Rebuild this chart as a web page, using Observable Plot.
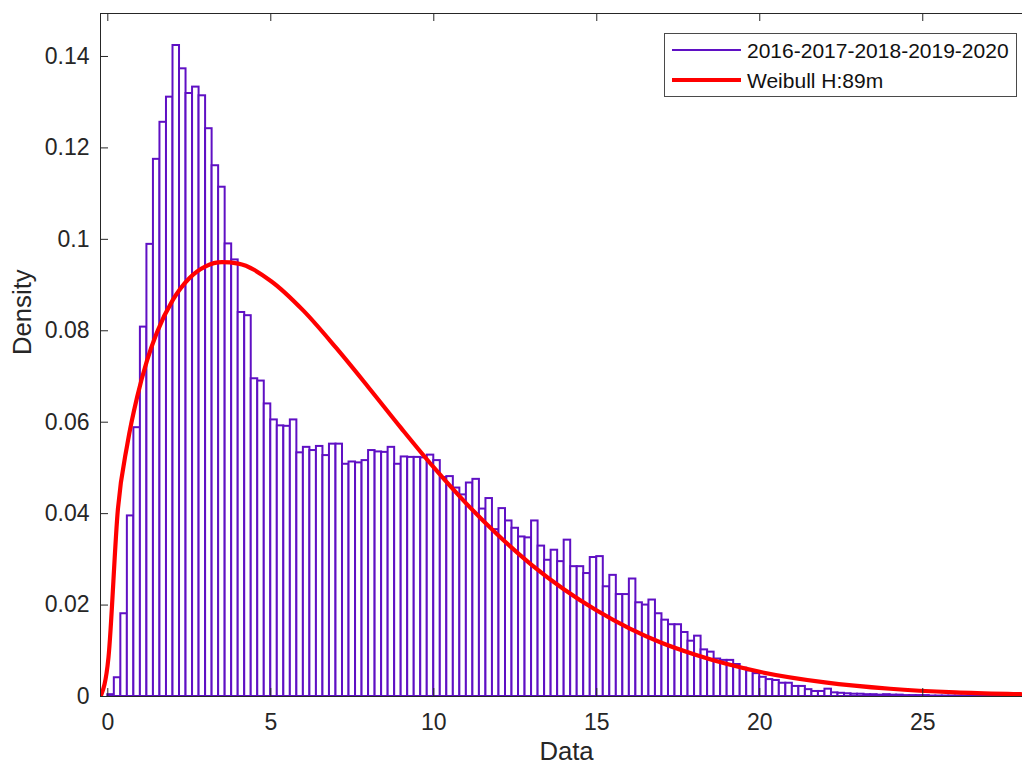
<!DOCTYPE html>
<html>
<head>
<meta charset="utf-8">
<script src="https://cdn.jsdelivr.net/npm/d3@7"></script>
<script src="https://cdn.jsdelivr.net/npm/@observablehq/plot@0.6"></script>
<style>
  html, body { margin: 0; padding: 0; background: #fff; }
  #wrap { position: relative; width: 1022px; height: 766px; font-family: "Liberation Sans", Arial, sans-serif; }
  .legend { position: absolute; left: 664px; top: 33px; width: 353px; height: 64px; box-sizing: border-box;
            border: 1px solid #4a4a4a; background: #fff; }
  .legend .row { position: absolute; left: 0; height: 0; }
  .legend .sw { position: absolute; left: 7px; width: 69px; }
  .legend .lab { position: absolute; left: 82px; font-size: 21px; color: #111; white-space: nowrap; line-height: 1; transform: translateY(-50%); }
</style>
</head>
<body>
<div id="wrap"></div>
<script>
// ---------- data ----------
const binWidth = 0.2;           // histogram bin width (bins start at 0)
const density = [
  0.0004, 0.0041, 0.0181, 0.0395, 0.0588, 0.0808, 0.0989, 0.1175, 0.1256, 0.1311,
  0.1424, 0.1373, 0.1319, 0.1333, 0.1314, 0.1242, 0.1161, 0.1114, 0.0990, 0.0955,
  0.0840, 0.0833, 0.0695, 0.0690, 0.0640, 0.0605, 0.0592, 0.0591, 0.0605, 0.0533,
  0.0545, 0.0538, 0.0547, 0.0527, 0.0552, 0.0552, 0.0508, 0.0513, 0.0511, 0.0516,
  0.0538, 0.0535, 0.0534, 0.0545, 0.0508, 0.0524, 0.0523, 0.0523, 0.0522, 0.0528,
  0.0516, 0.0479, 0.0481, 0.0456, 0.0441, 0.0467, 0.0475, 0.0410, 0.0433, 0.0365,
  0.0411, 0.0384, 0.0368, 0.0349, 0.0347, 0.0384, 0.0329, 0.0298, 0.0320, 0.0295,
  0.0342, 0.0284, 0.0284, 0.0269, 0.0304, 0.0306, 0.0240, 0.0265, 0.0223, 0.0223,
  0.0257, 0.0205, 0.0200, 0.0211, 0.0181, 0.0167, 0.0157, 0.0157, 0.0140, 0.0121,
  0.0132, 0.0102, 0.0097, 0.0082, 0.0079, 0.0079, 0.0070, 0.0062, 0.0056, 0.0050,
  0.0042, 0.0037, 0.0035, 0.0029, 0.0029, 0.0022, 0.0022, 0.0015, 0.0011, 0.0011,
  0.0016, 0.0008, 0.0007, 0.0006, 0.0005, 0.0005, 0.0004, 0.0004, 0.0003, 0.0004,
  0.0003, 0.0003, 0.0002, 0.0002, 0.0002, 0.0002, 0.0001, 0.0001, 0.0001, 0.0001,
  0.0001, 0.0001, 0.0001, 0.00005, 0.00005, 0.00005, 0.00005, 0.00005, 0.00003, 0.00003
];

// Weibull fit curve
const curveX = [-0.22, 0.02, 0.31, 0.6, 0.9, 1.2, 1.5, 2.0, 2.5, 3.0, 3.5, 4.0, 5, 6, 7, 8, 9, 10,
                11, 12, 13, 14, 15, 16, 17, 18, 19, 20, 22, 24, 26, 28, 28.3];
const curveY = [0, 0.0085, 0.0410, 0.0552, 0.0655, 0.0734, 0.0795, 0.0868, 0.0915, 0.0941, 0.0950, 0.0947,
                0.0909, 0.0844, 0.0763, 0.0676, 0.0587, 0.0501, 0.0422, 0.0351, 0.0288, 0.0234, 0.0188,
                0.0149, 0.0117, 0.0092, 0.0071, 0.0054, 0.0031, 0.0017, 0.0009, 0.0005, 0.00045];

const xTicks = [0, 5, 10, 15, 20, 25];
const xTickLabels = ["0", "5", "10", "15", "20", "25"];
const yTicks = [0, 0.02, 0.04, 0.06, 0.08, 0.10, 0.12, 0.14];
const yTickLabels = ["0", "0.02", "0.04", "0.06", "0.08", "0.1", "0.12", "0.14"];
const seriesNames = ["2016-2017-2018-2019-2020", "Weibull H:89m"];
const xTitle = "Data";
const yTitle = "Density";

// ---------- build tables ----------
const bars = density.map((v, i) => ({x1: i * binWidth, x2: (i + 1) * binWidth, y: v}));
const curve = curveX.map((x, i) => ({x, y: curveY[i]}));

const W = 1022, H = 766;
const mL = 100, mR = 0, mT = 13, mB = 70;
const innerW = W - mL - mR, innerH = H - mT - mB;
const xDomain = [-0.224, 28.06];
const yDomain = [0, 0.1494];
const purple = "#5f10c4";
const red = "#ff0000";
const axisColor = "#262626";
const tickLen = 8;

const chart = Plot.plot({
  width: W, height: H,
  marginLeft: mL, marginRight: mR, marginTop: mT, marginBottom: mB,
  style: {fontFamily: "'Liberation Sans', Arial, sans-serif", fontSize: "23px", color: axisColor, background: "#fff"},
  x: {domain: xDomain},
  y: {domain: yDomain},
  marks: [
    Plot.rectY(bars, {x1: "x1", x2: "x2", y: "y", fill: "white", stroke: purple, strokeWidth: 2, clip: true, inset: 0}),
    Plot.line(curve, {x: "x", y: "y", stroke: red, strokeWidth: 4.2, curve: "monotone-x", clip: true, strokeLinejoin: "round"}),
    // box lines
    Plot.ruleY([yDomain[0]], {stroke: axisColor, strokeWidth: 1}),
    Plot.ruleY([yDomain[1]], {stroke: axisColor, strokeWidth: 1}),
    Plot.ruleX([xDomain[0]], {stroke: axisColor, strokeWidth: 1}),
    // inward ticks
    Plot.ruleY(yTicks, {y: d => d, insetRight: innerW - tickLen, stroke: axisColor}),
    Plot.ruleX(xTicks, {x: d => d, insetTop: innerH - tickLen, stroke: axisColor}),
    Plot.ruleX(xTicks, {x: d => d, insetBottom: innerH - tickLen, stroke: axisColor}),
    // tick labels
    Plot.axisX({ticks: xTicks, tickFormat: d => xTickLabels[xTicks.indexOf(d)], tickSize: 0, tickPadding: 17, label: null, fontSize: 23}),
    Plot.axisY({ticks: yTicks, tickFormat: d => yTickLabels[yTicks.indexOf(d)], tickSize: 0, tickPadding: 11, label: null, fontSize: 23}),
    // axis titles
    Plot.text([xTitle], {text: d => d, frameAnchor: "bottom", dx: 5, dy: 63, fontSize: 25.7, fill: axisColor}),
    Plot.text([yTitle], {text: d => d, frameAnchor: "left", dx: -78, rotate: -90, fontSize: 25.7, fill: axisColor})
  ]
});

const wrap = document.getElementById("wrap");
wrap.appendChild(chart);

// legend (inside the axes, top-right)
const legend = document.createElement("div");
legend.className = "legend";
const legendStyles = [
  {color: purple, width: 2, top: 16},
  {color: red, width: 4.5, top: 46}
];
seriesNames.forEach((name, i) => {
  const st = legendStyles[i];
  const row = document.createElement("div");
  row.className = "row";
  row.style.top = st.top + "px";
  const sw = document.createElement("div");
  sw.className = "sw";
  sw.style.height = st.width + "px";
  sw.style.top = (-st.width / 2) + "px";
  sw.style.background = st.color;
  const lab = document.createElement("div");
  lab.className = "lab";
  lab.textContent = name;
  row.appendChild(sw);
  row.appendChild(lab);
  legend.appendChild(row);
});
wrap.appendChild(legend);
</script>
</body>
</html>
